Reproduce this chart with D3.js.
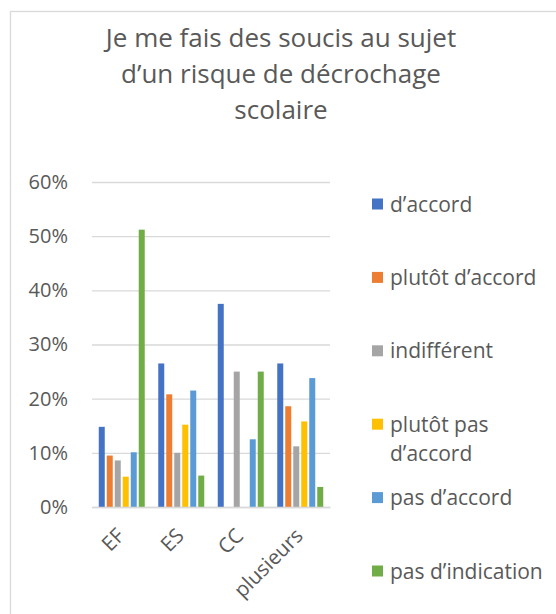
<!DOCTYPE html>
<html>
<head>
<meta charset="utf-8">
<script src="https://cdn.jsdelivr.net/npm/d3@7"></script>
<style>
  html, body { margin: 0; padding: 0; background: #fff; }
  svg { display: block; }
  text { font-family: "Open Sans", "Noto Sans", sans-serif; fill: #595959; }
</style>
</head>
<body>
<svg id="chart" width="556" height="614"></svg>
<script>
const titleLines = ["Je me fais des soucis au sujet", "d\u2019un risque de d\u00e9crochage", "scolaire"];
const categories = ["EF", "ES", "CC", "plusieurs"];
const seriesNames = ["d\u2019accord", "plut\u00f4t d\u2019accord", "indiff\u00e9rent", "plut\u00f4t pas d\u2019accord", "pas d\u2019accord", "pas d\u2019indication"];
const legendLines = [["d\u2019accord"], ["plut\u00f4t d\u2019accord"], ["indiff\u00e9rent"], ["plut\u00f4t pas", "d\u2019accord"], ["pas d\u2019accord"], ["pas d\u2019indication"]];
const colors = ["#4472C4", "#ED7D31", "#A5A5A5", "#FFC000", "#5B9BD5", "#70AD47"];
// values per series, in category order EF, ES, CC, plusieurs
const dAccord        = [0.148, 0.265, 0.375, 0.265];
const plutotDAccord  = [0.095, 0.208, 0.000, 0.186];
const indifferent    = [0.086, 0.100, 0.250, 0.112];
const plutotPas      = [0.056, 0.152, 0.000, 0.158];
const pasDAccord     = [0.101, 0.215, 0.125, 0.238];
const pasIndication  = [0.512, 0.058, 0.250, 0.037];
const seriesValues = [dAccord, plutotDAccord, indifferent, plutotPas, pasDAccord, pasIndication];
const yTicks = [0, 0.1, 0.2, 0.3, 0.4, 0.5, 0.6];

const svg = d3.select("#chart");

// outer frame
svg.append("rect").attr("x", 10.5).attr("y", 11.5).attr("width", 600).attr("height", 700)
  .attr("fill", "none").attr("stroke", "#d9d9d9").attr("stroke-width", 1.3);

// title
svg.append("g").selectAll("text").data(titleLines).join("text")
  .attr("x", 281).attr("y", (d, i) => 47 + i * 36)
  .attr("text-anchor", "middle").attr("font-size", 26)
  .text(d => d);

const x0 = d3.scaleBand().domain(categories).range([92, 330]).paddingInner(0.227).paddingOuter(0.1135);
const x1 = d3.scaleBand().domain(d3.range(seriesNames.length)).range([0, x0.bandwidth()]).paddingInner(0.25).paddingOuter(0);
const y = d3.scaleLinear().domain([0, 0.6]).range([507, 182]);

// gridlines
const yAxis = d3.axisLeft(y).tickValues(yTicks).tickFormat(d3.format(".0%")).tickSize(-(330 - 92)).tickPadding(24);
const gy = svg.append("g").attr("transform", "translate(92,0)").call(yAxis);
gy.select(".domain").remove();
gy.selectAll(".tick line").attr("stroke", "#d9d9d9").attr("stroke-width", 1.3);
gy.selectAll(".tick text").attr("font-size", 20).attr("fill", "#595959")
  .attr("font-family", "\"Open Sans\", \"Noto Sans\", sans-serif");

// bars
const groups = svg.append("g").selectAll("g").data(seriesValues).join("g")
  .attr("fill", (d, i) => colors[i]);
groups.each(function(vals, si) {
  d3.select(this).selectAll("rect").data(vals).join("rect")
    .attr("x", (v, ci) => x0(categories[ci]) + x1(si))
    .attr("width", x1.bandwidth())
    .attr("y", v => y(v))
    .attr("height", v => y(0) - y(v));
});

// x axis labels
const xAxis = d3.axisBottom(x0).tickSize(0).tickPadding(0);
const gx = svg.append("g").attr("transform", "translate(0,507)").call(xAxis);
gx.select(".domain").attr("stroke", "#d9d9d9").attr("stroke-width", 1.3);
gx.selectAll(".tick text")
  .attr("font-size", 20.5).attr("fill", "#595959")
  .attr("font-family", "\"Open Sans\", \"Noto Sans\", sans-serif")
  .attr("text-anchor", "end")
  .attr("dy", null).attr("y", 0)
  .attr("transform", "translate(4,30) rotate(-45)");

// legend
const leg = svg.append("g").selectAll("g").data(seriesNames).join("g")
  .attr("transform", (d, i) => `translate(372,${204 + i * 73.4})`);
leg.append("rect").attr("x", 0).attr("y", -5.5).attr("width", 11).attr("height", 11)
  .attr("fill", (d, i) => colors[i]);
leg.each(function(d, i) {
  d3.select(this).selectAll("text").data(legendLines[i]).join("text")
    .attr("x", 18).attr("y", (t, j) => 7.5 + j * 29)
    .attr("font-size", 21)
    .text(t => t);
});
</script>
</body>
</html>
